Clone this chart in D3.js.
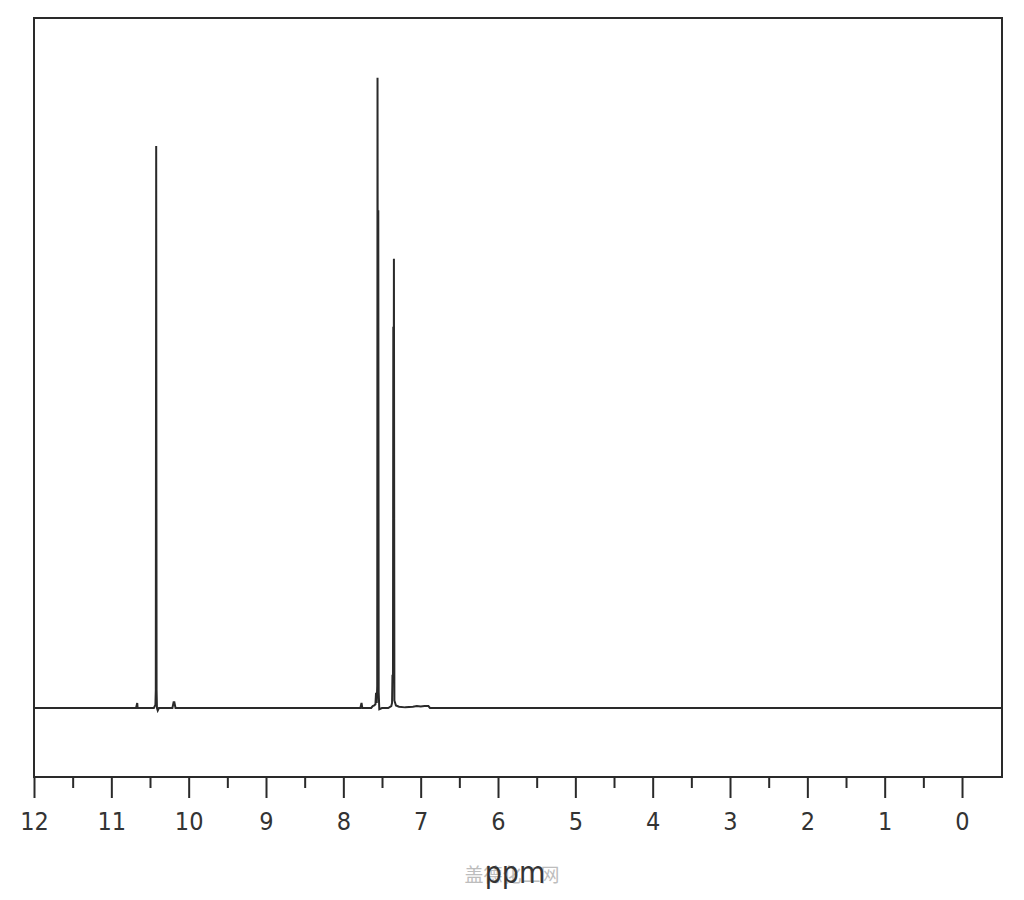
<!DOCTYPE html>
<html>
<head>
<meta charset="utf-8">
<script src="https://cdn.jsdelivr.net/npm/d3@7"></script>
<style>
  html, body { margin: 0; padding: 0; background: #fff; }
  svg { display: block; }
</style>
</head>
<body>
<svg id="chart" width="1024" height="900"></svg>
<script>
// ---- Data ----
const spectrumPpm = [
  12.0, 10.68, 10.665, 10.66, 10.45, 10.43, 10.425, 10.42, 10.415, 10.41, 10.40, 10.385,
  10.21, 10.195, 10.185, 10.17,
  7.78, 7.765, 7.755, 7.64, 7.62, 7.60, 7.585, 7.577, 7.568, 7.562, 7.558, 7.553, 7.548, 7.543, 7.535, 7.50,
  7.42, 7.38, 7.37, 7.365, 7.358, 7.354, 7.350, 7.346, 7.340, 7.32, 7.28, 7.20,
  7.10, 7.05, 7.00, 6.95, 6.90, 6.88, -0.52
];
const spectrumIntensity = [
  0, 0, 0.8, 0, 0, 0.5, 2.9, 89.2, 2.9, 0, -0.4, 0,
  0, 0.9, 0.9, 0,
  0, 0.8, 0, 0, 0.3, 0.4, 0.6, 2.4, 0.8, 3.5, 100, 40, 79, 2.5, -0.2, 0,
  0, 0.3, 0.8, 5.1, 5.1, 60.5, 30, 71.3, 1.2, 0.4, 0.2, 0.1,
  0.2, 0.3, 0.25, 0.3, 0.3, 0, 0
];
const majorTicks = [12, 11, 10, 9, 8, 7, 6, 5, 4, 3, 2, 1, 0];
const minorTicks = [11.5, 10.5, 9.5, 8.5, 7.5, 6.5, 5.5, 4.5, 3.5, 2.5, 1.5, 0.5];
const xLabel = "ppm";
const watermark = "盖德化工网";

// ---- Layout ----
const frame = { left: 34, top: 18, right: 1002, bottom: 777 };
const ink = "#2a2a2a";

const svg = d3.select("#chart");

const x = d3.scaleLinear().domain([12, -0.517]).range([frame.left, frame.right]);
const y = d3.scaleLinear().domain([-10.95, 109.5]).range([frame.bottom, frame.top]);

// frame
svg.append("rect")
  .attr("x", frame.left).attr("y", frame.top)
  .attr("width", frame.right - frame.left).attr("height", frame.bottom - frame.top)
  .attr("fill", "none").attr("stroke", ink).attr("stroke-width", 2);

// spectrum
const pts = spectrumPpm.map((p, i) => [p, spectrumIntensity[i]]);
const line = d3.line().x(d => x(d[0])).y(d => y(d[1]));
svg.append("path")
  .datum(pts)
  .attr("d", line)
  .attr("fill", "none")
  .attr("stroke", ink)
  .attr("stroke-width", 2)
  .attr("stroke-linejoin", "miter");

// axis: major ticks with labels
const axisMajor = d3.axisBottom(x).tickValues(majorTicks).tickSize(21).tickPadding(14).tickFormat(d3.format("d"));
const gMajor = svg.append("g").attr("transform", `translate(0,${frame.bottom})`).call(axisMajor);
gMajor.select(".domain").remove();
gMajor.selectAll(".tick line").attr("stroke", ink).attr("stroke-width", 2);
gMajor.selectAll(".tick text")
  .attr("fill", "#333")
  .style("font-family", "'Liberation Sans Narrow', 'DejaVu Sans Condensed', 'Liberation Sans', sans-serif")
  .style("font-size", "25px");

// axis: minor ticks
const axisMinor = d3.axisBottom(x).tickValues(minorTicks).tickSize(11).tickFormat("");
const gMinor = svg.append("g").attr("transform", `translate(0,${frame.bottom})`).call(axisMinor);
gMinor.select(".domain").remove();
gMinor.selectAll(".tick line").attr("stroke", ink).attr("stroke-width", 2);

// watermark
svg.append("text")
  .attr("x", 512).attr("y", 882)
  .attr("text-anchor", "middle")
  .attr("fill", "#bdbdbd")
  .style("font-family", "'Noto Sans CJK SC', sans-serif")
  .style("font-size", "19px")
  .text(watermark);

// x label
svg.append("text")
  .attr("x", 515).attr("y", 883)
  .attr("text-anchor", "middle")
  .attr("fill", "#333")
  .style("font-family", "'Liberation Sans Narrow', 'DejaVu Sans Condensed', 'Liberation Sans', sans-serif")
  .style("font-size", "30px")
  .text(xLabel);
</script>
</body>
</html>
